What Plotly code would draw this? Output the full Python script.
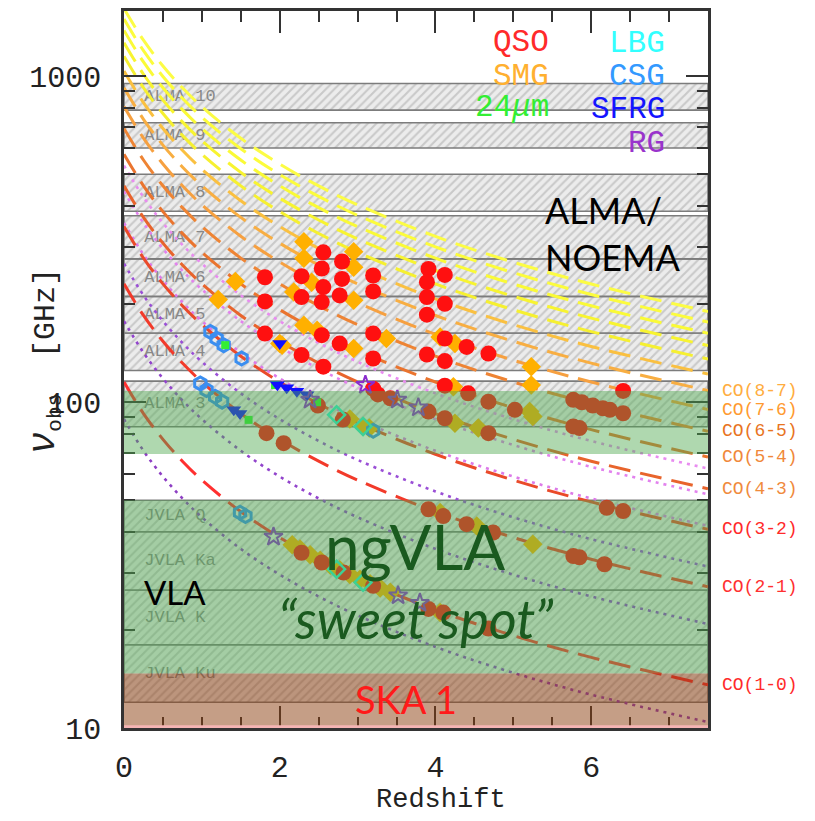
import numpy as np
import plotly.graph_objects as go

# ---------------- data ----------------
Z_GRID = [0, 0.25, 0.5, 0.75, 1, 1.5, 2, 2.5, 3, 4, 5, 6, 7.5]

CO_NAMES = ["CO(1-0)", "CO(2-1)", "CO(3-2)", "CO(4-3)", "CO(5-4)", "CO(6-5)", "CO(7-6)",
            "CO(8-7)", "CO(9-8)", "CO(10-9)", "CO(11-10)", "CO(12-11)", "CO(13-12)", "CO(14-13)"]
CO_1_0 = [115.27, 92.22, 76.85, 65.87, 57.64, 46.11, 38.42, 32.93, 28.82, 23.05, 19.21, 16.47, 13.56]
CO_2_1 = [230.54, 184.43, 153.69, 131.74, 115.27, 92.22, 76.85, 65.87, 57.64, 46.11, 38.42, 32.93, 27.12]
CO_3_2 = [345.80, 276.64, 230.53, 197.60, 172.90, 138.32, 115.27, 98.80, 86.45, 69.16, 57.63, 49.40, 40.68]
CO_4_3 = [461.04, 368.83, 307.36, 263.45, 230.52, 184.42, 153.68, 131.73, 115.26, 92.21, 76.84, 65.86, 54.24]
CO_5_4 = [576.27, 461.02, 384.18, 329.30, 288.14, 230.51, 192.09, 164.65, 144.07, 115.25, 96.05, 82.32, 67.80]
CO_6_5 = [691.47, 553.18, 460.98, 395.13, 345.74, 276.59, 230.49, 197.56, 172.87, 138.29, 115.25, 98.78, 81.35]
CO_7_6 = [806.65, 645.32, 537.77, 460.94, 403.33, 322.66, 268.88, 230.47, 201.66, 161.33, 134.44, 115.24, 94.90]
CO_8_7 = [921.80, 737.44, 614.53, 526.74, 460.90, 368.72, 307.27, 263.37, 230.45, 184.36, 153.63, 131.69, 108.45]
CO_9_8 = [1036.91, 829.53, 691.27, 592.52, 518.46, 414.76, 345.64, 296.26, 259.23, 207.38, 172.82, 148.13, 121.99]
CO_10_9 = [1151.99, 921.59, 767.99, 658.28, 575.99, 460.80, 384.00, 329.14, 288.00, 230.40, 192.00, 164.57, 135.53]
CO_11_10 = [1267.01, 1013.61, 844.67, 724.01, 633.51, 506.80, 422.34, 362.00, 316.75, 253.40, 211.17, 181.00, 149.06]
CO_12_11 = [1382.00, 1105.60, 921.33, 789.71, 691.00, 552.80, 460.67, 394.86, 345.50, 276.40, 230.33, 197.43, 162.59]
CO_13_12 = [1496.92, 1197.54, 997.95, 855.38, 748.46, 598.77, 498.97, 427.69, 374.23, 299.38, 249.49, 213.85, 176.11]
CO_14_13 = [1611.79, 1289.43, 1074.53, 921.02, 805.90, 644.72, 537.26, 460.51, 402.95, 322.36, 268.63, 230.26, 189.62]

HCN_1_0 = [88.63, 70.91, 59.09, 50.65, 44.32, 35.45, 29.54, 25.32, 22.16, 17.73, 14.77, 12.66, 10.43]
HCN_2_1 = [177.26, 141.81, 118.17, 101.29, 88.63, 70.90, 59.09, 50.65, 44.32, 35.45, 29.54, 25.32, 20.85]
HCN_3_2 = [265.89, 212.71, 177.26, 151.94, 132.94, 106.36, 88.63, 75.97, 66.47, 53.18, 44.32, 37.98, 31.28]
HCN_4_3 = [354.51, 283.61, 236.34, 202.58, 177.25, 141.80, 118.17, 101.29, 88.63, 70.90, 59.09, 50.64, 41.71]
HCN_5_4 = [443.12, 354.50, 295.41, 253.21, 221.56, 177.25, 147.71, 126.61, 110.78, 88.62, 73.85, 63.30, 52.13]
HCN_6_5 = [531.72, 425.38, 354.48, 303.84, 265.86, 212.69, 177.24, 151.92, 132.93, 106.34, 88.62, 75.96, 62.56]

ALMA_NAMES = ["ALMA 3", "ALMA 4", "ALMA 5", "ALMA 6", "ALMA 7", "ALMA 8", "ALMA 9", "ALMA 10"]
ALMA_LO = [84, 125, 163, 211, 275, 385, 602, 787]
ALMA_HI = [116, 163, 211, 275, 373, 500, 720, 950]
JVLA_NAMES = ["JVLA Ku", "JVLA K", "JVLA Ka", "JVLA Q"]
JVLA_LO = [12, 18, 26.5, 40]
JVLA_HI = [18, 26.5, 40, 50]
NGVLA_UPPER = [69.3, 108.2]
NGVLA_LOWER = [14.7, 50]
SKA1 = [10, 14.7]

QSO_Z = [2.56, 2.80, 2.54, 1.81, 2.28, 2.56, 2.80, 3.20, 3.20, 2.28, 2.77, 1.81, 2.54, 1.81, 2.54, 2.77,
         3.20, 2.28, 2.56, 3.20, 3.91, 4.12, 3.89, 3.89, 4.12, 3.89, 4.12, 4.40, 4.68, 3.89, 4.12, 4.12,
         6.41, 3.20, 4.42, 4.68, 5.02, 3.91, 4.12, 4.68, 5.77, 5.88, 6.02, 6.15, 6.24, 6.41, 5.77, 5.85,
         1.83, 2.05, 3.26, 3.42, 6.20, 6.41, 3.91, 4.10, 4.40, 4.74, 5.77, 5.85, 6.17, 3.91, 4.10, 4.68,
         2.28, 2.54, 2.82, 3.20, 2.49, 2.81]
QSO_NU = [288, 270, 257, 241.6, 243.4, 225.3, 238.8, 244.6, 218.6, 210, 212.5, 203.7, 202.7, 162.3, 160.4, 151.2,
          162.3, 139.4, 128.4, 136.1, 256.2, 245.6, 233.3, 210, 200.3, 185.4, 156.6, 147.7, 140.9, 140.0, 133.6, 112.3,
          108.2, 109.9, 106.4, 100.3, 94.7, 93.5, 89.2, 80.3, 101.6, 99.9, 97.6, 95.7, 94.7, 92.4, 84.2, 83.2,
          80.3, 74.8, 105.6, 102.7, 47.4, 46.3, 46.9, 44.7, 42.2, 39.8, 33.7, 33.4, 31.8, 23.2, 22.6, 20.2,
          34.5, 32.2, 30.0, 27.3, 97.6, 88.4]

SMG_Z = [1.43, 1.21, 2.31, 2.95, 2.31, 2.95, 2.41, 2.18, 2.95, 2.31, 2.48, 2.95, 3.37, 2.03, 4.06, 4.25,
         5.23, 5.23, 4.23, 5.21, 5.25, 4.25, 4.55, 4.06, 4.53, 5.25, 4.06, 3.07, 2.00,
         2.16, 2.26, 2.39, 2.52, 2.65, 2.77, 2.90, 3.03, 3.16, 3.29, 3.42, 2.90, 3.15]
SMG_NU = [234.5, 206.6, 310.6, 289.5, 276.2, 259.2, 233.3, 217.5, 205.2, 172.2, 166.2, 146.0, 156.6, 149.5, 158.5, 151.2,
          128.4, 112.8, 111.5, 93.5, 90.3, 86.1, 83.2, 45.8, 41.7, 36.6, 22.6, 84.2, 151.2,
          36.5, 35.4, 34.0, 32.7, 31.6, 30.6, 29.6, 28.6, 27.7, 26.9, 26.1, 88.7, 83.3]

MIPS24_Z = [1.30, 2.48, 1.60, 1.94]
MIPS24_NU = [149.5, 99.9, 88.2, 112.8]
LBG_Z = [2.73, 3.07, 2.73, 3.07]
LBG_NU = [91.4, 84.2, 30.7, 28.0]
CSG_Z = [1.11, 1.19, 1.28, 1.51, 0.98, 1.06, 1.17, 1.26, 3.20, 1.49, 1.56]
CSG_NU = [164.2, 156.6, 149.5, 136.1, 114.1, 108.9, 103.9, 100.3, 81.7, 45.8, 44.7]
SFRG_Z = [2.00, 1.97, 2.09, 2.22, 2.35, 1.41, 1.49]
SFRG_NU = [151.2, 113.1, 110.7, 108.0, 105.4, 94.7, 92.2]
RG_Z = [1.92, 3.52, 3.80, 3.10, 3.51, 3.78, 2.39]
RG_NU = [38.6, 25.5, 24.2, 112.8, 101.6, 96.2, 101.6]

CO_LINES = [CO_1_0, CO_2_1, CO_3_2, CO_4_3, CO_5_4, CO_6_5, CO_7_6, CO_8_7,
            CO_9_8, CO_10_9, CO_11_10, CO_12_11, CO_13_12, CO_14_13]
HCN_LINES = [HCN_1_0, HCN_2_1, HCN_3_2, HCN_4_3, HCN_5_4, HCN_6_5]

# ---------------- styles ----------------
CO_COLORS = ["#ff3030", "#f23a2a", "#ea4a2a", "#e8642c", "#ea742e", "#ee8434", "#f6a040", "#f8ae42",
             "#fac040", "#f6f030", "#f8f430", "#fafa36", "#fcfc3c", "#fcfc44"]
CO_LABEL_COLORS = ["#ff2a2a", "#ff3030", "#ff2a2a", "#f08a3c", "#f0883a", "#e8741e", "#ff9a30", "#ffad40"]
HCN_COLORS = ["#8e3fc4", "#9244cc", "#9a4fd6", "#dc7ae8", "#e282ee", "#e88cf0"]

X0, X1 = 0, 7.5
Y_LOG = [1, 3.2]
OFF = 8                       # page body margin of the html output
W, H = 815 - 2 * OFF, 821 - 2 * OFF
L, R, T, B = 124, 708, 8, 728  # plot area in screen pixels
MONO = "Liberation Mono, Courier New, monospace"
SANS = "Lato, Open Sans, sans-serif"

fig = go.Figure()

def band(lo, hi, fg, bg, edge):
    fig.add_trace(go.Scatter(
        x=[X0, X1, X1, X0, X0], y=[lo, lo, hi, hi, lo], mode="lines",
        fill="toself", fillcolor=bg,
        fillpattern=dict(shape="/", fgcolor=fg, bgcolor=bg, size=6, solidity=0.35),
        line=dict(color=edge, width=1.6), hoverinfo="skip", showlegend=False))

for lo, hi in zip(ALMA_LO, ALMA_HI):
    band(lo, hi, "#a6a6a6", "#ececec", "#7c7c7c")
for lo, hi in zip(JVLA_LO, JVLA_HI):
    band(lo, hi, "#a6a6a6", "#ececec", "#7c7c7c")

# band labels (as text traces so they sit under the lines and overlays)
fig.add_trace(go.Scatter(
    x=[0.26] * len(ALMA_NAMES), y=[np.sqrt(a * b) for a, b in zip(ALMA_LO, ALMA_HI)],
    text=ALMA_NAMES, mode="text", textposition="middle right",
    textfont=dict(family=MONO, size=17, color="#888888"), hoverinfo="skip", showlegend=False))
fig.add_trace(go.Scatter(
    x=[0.26] * len(JVLA_NAMES), y=[np.sqrt(a * b) for a, b in zip(JVLA_LO, JVLA_HI)],
    text=JVLA_NAMES, mode="text", textposition="middle right",
    textfont=dict(family=MONO, size=17, color="#888888"), hoverinfo="skip", showlegend=False))

# HCN dotted lines
for vals, col in zip(HCN_LINES, HCN_COLORS):
    fig.add_trace(go.Scatter(x=Z_GRID, y=vals, mode="lines",
                             line=dict(color=col, width=2.6, dash="3px,5px", shape="spline"),
                             hoverinfo="skip", showlegend=False))
# CO dashed lines (high J first)
for vals, col in list(zip(CO_LINES, CO_COLORS))[::-1]:
    fig.add_trace(go.Scatter(x=Z_GRID, y=vals, mode="lines",
                             line=dict(color=col, width=3, dash="22px,10px", shape="spline"),
                             hoverinfo="skip", showlegend=False))

def pts(zs, nus, symbol, color, size, open_=False, lw=0):
    m = dict(symbol=symbol, size=size, color=color)
    m["line"] = dict(color=color, width=lw) if open_ else dict(width=0)
    fig.add_trace(go.Scatter(x=zs, y=nus, mode="markers", marker=m,
                             hoverinfo="skip", showlegend=False))

pts(SMG_Z, SMG_NU, "diamond", "#ffb000", 15)
pts(QSO_Z, QSO_NU, "circle", "#ff1010", 16)
pts(CSG_Z, CSG_NU, "hexagon-open", "#3a8ef0", 13, True, 3)
pts(MIPS24_Z, MIPS24_NU, "square", "#33ee33", 8)
pts(SFRG_Z, SFRG_NU, "triangle-down", "#1010ff", 13)
pts(LBG_Z, LBG_NU, "diamond-open", "#30f0d0", 13, True, 2.5)
pts(RG_Z, RG_NU, "star-open", "#8a2ccc", 14, True, 2)

# ---------------- overlays ----------------
shapes = [
    dict(type="rect", xref="x", yref="y", x0=X0, x1=X1, y0=NGVLA_UPPER[0], y1=NGVLA_UPPER[1],
         fillcolor="rgba(78,168,78,0.45)", line=dict(width=0), layer="above"),
    dict(type="rect", xref="x", yref="y", x0=X0, x1=X1, y0=NGVLA_LOWER[0], y1=NGVLA_LOWER[1],
         fillcolor="rgba(78,168,78,0.45)", line=dict(width=0), layer="above"),
    dict(type="rect", xref="x", yref="y", x0=X0, x1=X1, y0=SKA1[0], y1=SKA1[1],
         fillcolor="rgba(140,62,14,0.5)", line=dict(width=0), layer="above"),
    dict(type="line", xref="x", yref="y", x0=X0, x1=X1, y0=10.08, y1=10.08,
         line=dict(color="#f4b4b4", width=3), layer="above"),
]

def P(px, py):
    return (px - L) / (R - L), (B - py) / (B - T)

anns = []
def ann(px, py, text, size, color, family=SANS, xanchor="center", italic=False, align="center", angle=0):
    x, y = P(px, py)
    anns.append(dict(xref="paper", yref="paper", x=x, y=y, text=text, showarrow=False,
                     xanchor=xanchor, yanchor="middle", align=align, textangle=angle,
                     font=dict(family=family, size=size, color=color,
                               style="italic" if italic else "normal")))

ann(543, 231, "ALMA/<br>NOEMA", 36, "#000000", xanchor="left", align="left")
ann(415, 545, "ngVLA", 62, "#1a5a1f")
ann(416, 618, "“sweet spot”", 54, "#1a5a1f", italic=True)
ann(175, 591, "VLA", 33, "#000000")
ann(406, 699, "SKA 1", 38, "#ff1a1a")

# legend texts
ann(551, 40, "QSO", 31, "#ff2a2a", MONO, xanchor="right")
ann(551, 74, "SMG", 31, "#ffb030", MONO, xanchor="right")
ann(551, 105, "24<i>μ</i>m", 31, "#33ee33", MONO, xanchor="right")
ann(667, 41, "LBG", 31, "#33ffff", MONO, xanchor="right")
ann(667, 74, "CSG", 31, "#3399ff", MONO, xanchor="right")
ann(667, 107, "SFRG", 31, "#1414ff", MONO, xanchor="right")
ann(667, 141, "RG", 31, "#9933cc", MONO, xanchor="right")

# right-hand CO labels at the end of each line
for name, vals, col in zip(CO_NAMES[:8], CO_LINES[:8], CO_LABEL_COLORS):
    anns.append(dict(xref="paper", yref="y", x=P(720, 0)[0], y=np.log10(vals[-1]), text=name,
                     showarrow=False, xanchor="left", yanchor="middle",
                     font=dict(family=MONO, size=18, color=col)))

ann(441, 800, "Redshift", 27, "#222222", MONO)
ann(44, 360,
    "<span style='font-size:38px'><i>ν</i></span><sub>obs</sub>  [GHz]",
    30, "#222222", MONO, angle=-90)

minor_y = [m * 10 ** e for e in (1, 2, 3) for m in range(2, 10) if m * 10 ** e < 10 ** Y_LOG[1]]

fig.update_layout(
    width=W, height=H,
    margin=dict(l=L - OFF, r=W + OFF - R, t=T - OFF, b=H + OFF - B, pad=0),
    paper_bgcolor="white", plot_bgcolor="white",
    shapes=shapes, annotations=anns, showlegend=False,
    xaxis=dict(range=[X0, X1], tick0=0, dtick=2, ticks="inside", ticklen=22, tickwidth=2,
               tickcolor="#333333", showline=True, linecolor="#333333", linewidth=2.5,
               mirror="allticks", showgrid=False, zeroline=False, ticklabelstandoff=10,
               tickfont=dict(family=MONO, size=30, color="#222222"),
               minor=dict(dtick=0.5, tick0=0, ticks="inside", ticklen=11, tickwidth=1.5,
                          tickcolor="#333333", showgrid=False)),
    yaxis=dict(type="log", range=Y_LOG, tickmode="array", tickvals=[10, 100, 1000],
               ticktext=["10", "100", "1000"], ticks="inside", ticklen=22, tickwidth=2,
               tickcolor="#333333", showline=True, linecolor="#333333", linewidth=2.5,
               mirror="allticks", showgrid=False, zeroline=False, ticklabelstandoff=14,
               tickfont=dict(family=MONO, size=30, color="#222222"),
               minor=dict(tickmode="array", tickvals=minor_y, ticks="inside", ticklen=11,
                          tickwidth=1.5, tickcolor="#333333", showgrid=False)),
)

fig.write_html("out.html")
